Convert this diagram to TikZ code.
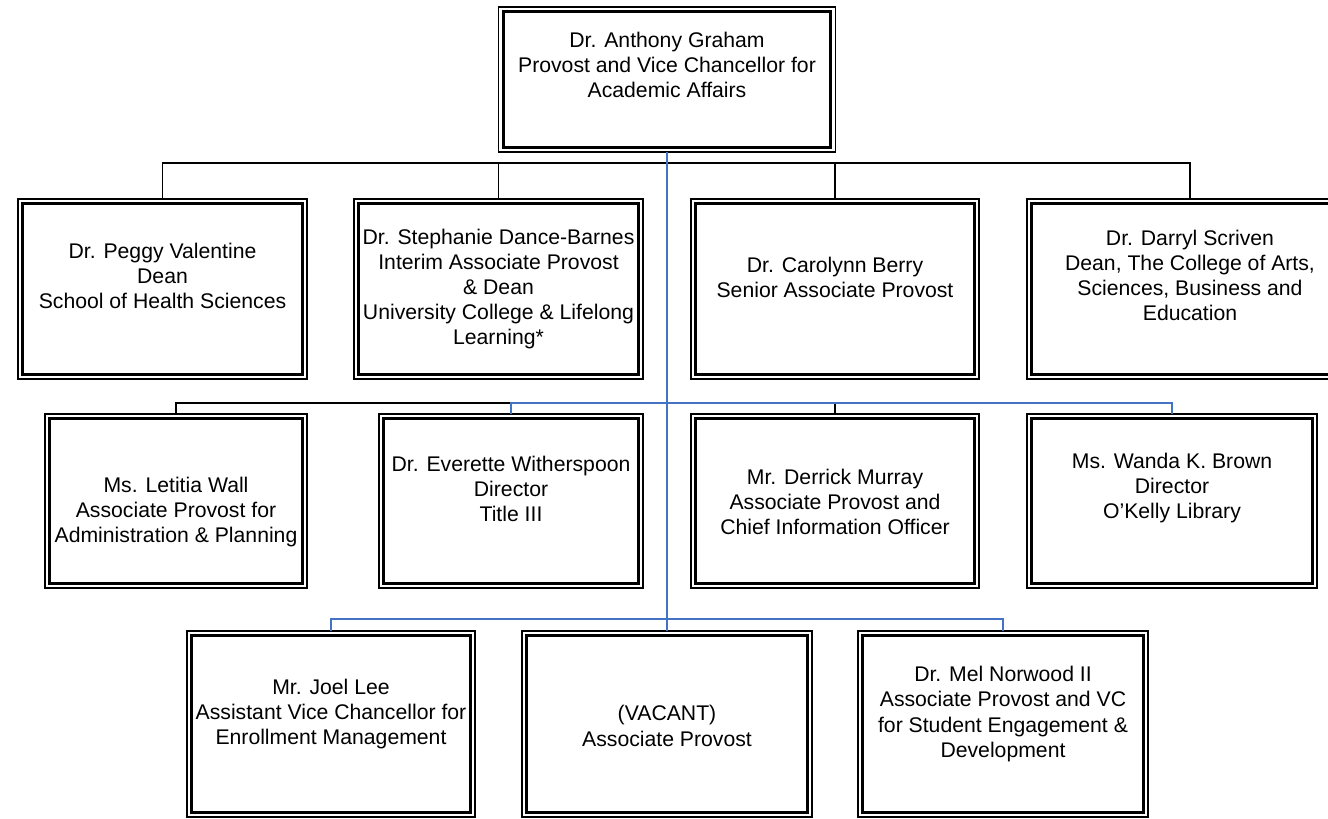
\documentclass[tikz,border=0pt]{standalone}
\usepackage{fontspec}
\setmainfont{Liberation Sans}
\usepackage{tikz}
\definecolor{linkblue}{RGB}{68,114,196}
\tikzstyle{person}=[rectangle,draw=black,line width=0.85pt,inner sep=0pt,outer sep=0pt]
\tikzstyle{innerframe}=[draw=black,line width=1.35pt]
\tikzstyle{persontext}=[align=center,font=\fontsize{10.6}{12.6}\selectfont,inner sep=0pt]
\tikzstyle{blackline}=[draw=black,line width=0.75pt]
\tikzstyle{blueline}=[draw=linkblue,line width=0.8pt]

\begin{document}
\begin{tikzpicture}[x=0.5pt,y=-0.5pt]
\useasboundingbox (0,0) rectangle (1328,819);

%Provost
\node[person,minimum width=168.5pt,minimum height=72.5pt] (provost) at (667,79.5) {};
\node[persontext] (provost-t) at (667,65) {Dr. Anthony Graham\\Provost and Vice Chancellor for\\Academic Affairs};

%Deans
  \foreach \x/\y/\name/\w/\dy/\label in {{162.5/289/valentine/144.5/-13/{Dr. Peggy Valentine\\Dean\\School of Health Sciences}},
      {498.5/289/dance/144.5/0/{Dr. Stephanie Dance-Barnes\\Interim Associate Provost\\\& Dean\\University College \& Lifelong\\Learning*}},
      {835/289/berry/144/-11.5/{Dr. Carolynn Berry\\Senior Associate Provost}},
      {1190/289/scriven/163/-13.5/{Dr. Darryl Scriven\\Dean, The College of Arts,\\Sciences, Business and\\Education}}}
  {
    \node[person,minimum width=\w pt,minimum height=90pt] (\name) at (\x,\y) {};
    \node[persontext] (\name-t) at (\x,\y+\dy) {\label};
  }

%Staff
  \foreach \x/\y/\name/\w/\dy/\label in {{176/501/wall/131/11/{Ms. Letitia Wall\\Associate Provost for\\Administration \& Planning}},
      {511/501/witherspoon/132/-12/{Dr. Everette Witherspoon\\Director\\Title III}},
      {835/501/murray/144/1/{Mr. Derrick Murray\\Associate Provost and\\Chief Information Officer}},
      {1172/501/brown/145/-13/{Ms. Wanda K. Brown\\Director\\O'Kelly Library}}}
  {
    \node[person,minimum width=\w pt,minimum height=87pt] (\name) at (\x,\y) {};
    \node[persontext] (\name-t) at (\x,\y+\dy) {\label};
  }

%Lower row
  \foreach \x/\y/\name/\w/\dy/\label in {{331/724/lee/144/-10/{Mr. Joel Lee\\Assistant Vice Chancellor for\\Enrollment Management}},
      {667/724/vacant/145/2/{(VACANT)\\Associate Provost}},
      {1003/724/norwood/145/-10/{Dr. Mel Norwood II\\Associate Provost and VC\\for Student Engagement \&\\Development}}}
  {
    \node[person,minimum width=\w pt,minimum height=93pt] (\name) at (\x,\y) {};
    \node[persontext] (\name-t) at (\x,\y+\dy) {\label};
  }

%double frames
  \foreach \n in {provost,valentine,dance,berry,scriven,wall,witherspoon,murray,brown,lee,vacant,norwood}
    \draw[innerframe] ([xshift=2.4pt,yshift=-2.4pt]\n.north west) rectangle ([xshift=-2.4pt,yshift=2.4pt]\n.south east);

%connectors
\coordinate (deanbus) at (667,163);
\coordinate (staffbus) at (667,403);
\coordinate (lowbus) at (667,619);

  \foreach \dest in {valentine,dance,berry,scriven}
    \draw[blackline] (provost) -- (deanbus) -| (\dest);
  \foreach \dest in {wall,murray}
    \draw[blackline] (provost) -- (staffbus) -| (\dest);
  \foreach \dest in {witherspoon,brown}
    \draw[blueline] (provost) -- (staffbus) -| (\dest);
  \foreach \dest in {lee,norwood}
    \draw[blueline] (provost) -- (lowbus) -| (\dest);
\draw[blueline] (provost) -- (vacant);

\end{tikzpicture}
\end{document}
